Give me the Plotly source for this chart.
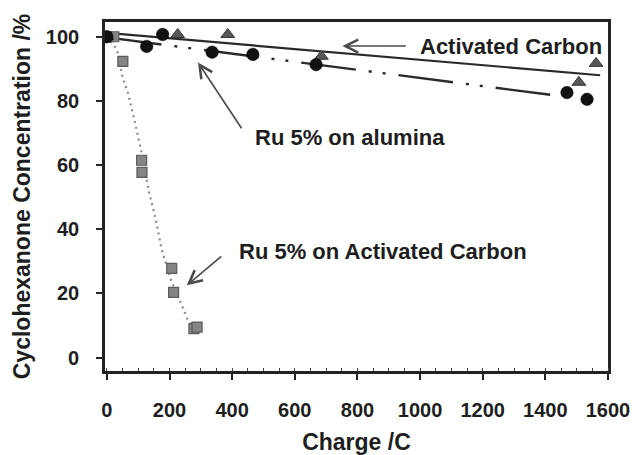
import plotly.graph_objects as go

# ---- data ----
# Activated Carbon (triangles)
ac_x = [0, 226, 386, 685, 1507, 1562]
ac_y = [100, 100.7, 100.7, 93.9, 85.8, 91.7]
ac_fit_x = [0, 1575]
ac_fit_y = [101.2, 88.0]

# Ru 5% on alumina (circles)
al_x = [0, 127, 178, 336, 466, 668, 1469, 1533]
al_y = [100, 97.0, 100.7, 95.2, 94.5, 91.3, 82.6, 80.5]
al_fit_x = [0, 1455]
al_fit_y = [99.8, 81.4]

# Ru 5% on Activated Carbon (squares)
ruac_x = [0, 22, 51, 111, 112, 207, 213, 278, 288]
ruac_y = [100, 100, 92.3, 61.5, 57.7, 27.8, 20.3, 9.0, 9.5]
ruac_fit_x = [0, 32, 51, 67, 89, 108, 134, 156, 175, 205, 239, 258, 290]
ruac_fit_y = [100, 96, 87, 82.6, 73.6, 65.2, 51.8, 43.1, 33.7, 24, 16.3, 11.9, 8]

x_ticks = [0, 200, 400, 600, 800, 1000, 1200, 1400, 1600]
y_ticks = [0, 20, 40, 60, 80, 100]

FONT = "Liberation Sans, Arial, sans-serif"
TXT = "#1e1e1e"

fig = go.Figure()

# trend lines
fig.add_trace(go.Scatter(x=ruac_fit_x, y=ruac_fit_y, mode="lines",
                         line=dict(color="#8a8a8a", width=2.2, dash="2px,4px"),
                         hoverinfo="skip", showlegend=False))
fig.add_trace(go.Scatter(x=al_fit_x, y=al_fit_y, mode="lines",
                         line=dict(color="#2a2a2a", width=2.4,
                                   dash="55px,13px,3px,11px,3px,13px"),
                         hoverinfo="skip", showlegend=False))
fig.add_trace(go.Scatter(x=ac_fit_x, y=ac_fit_y, mode="lines",
                         line=dict(color="#2a2a2a", width=2.2),
                         hoverinfo="skip", showlegend=False))

# markers
fig.add_trace(go.Scatter(x=ruac_x, y=ruac_y, mode="markers",
                         marker=dict(symbol="square", size=10, color="#858585",
                                     line=dict(color="#5c5c5c", width=1.2)),
                         name="Ru 5% on Activated Carbon", showlegend=False))
fig.add_trace(go.Scatter(x=ac_x, y=ac_y, mode="markers",
                         marker=dict(symbol="triangle-up", size=12, color="#575757",
                                     line=dict(color="#3a3a3a", width=1)),
                         name="Activated Carbon", showlegend=False))
fig.add_trace(go.Scatter(x=al_x, y=al_y, mode="markers",
                         marker=dict(symbol="circle", size=12.5, color="#111111",
                                     line=dict(color="#000000", width=0.5)),
                         name="Ru 5% on alumina", showlegend=False))

# labels
labels = [
    dict(text="Activated Carbon", x=1291, y=97.0, xanchor="center"),
    dict(text="Ru 5% on alumina", x=465, y=68.5, xanchor="left"),
    dict(text="Ru 5% on Activated Carbon", x=417, y=33.1, xanchor="left"),
]
for lb in labels:
    fig.add_annotation(x=lb["x"], y=lb["y"], text=lb["text"], showarrow=False,
                       xanchor=lb["xanchor"], yanchor="middle",
                       font=dict(family=FONT, size=22, color=TXT, weight="bold"))

# arrows (tip x,y ; tail ax,ay) in data units
arrows = [
    (752, 97.1, 959, 97.1),
    (291, 92.0, 433, 71.0),
    (255, 22.5, 370, 31.9),
]
for (tx, ty, sx, sy) in arrows:
    fig.add_annotation(x=tx, y=ty, ax=sx, ay=sy, xref="x", yref="y",
                       axref="x", ayref="y", text="", showarrow=True,
                       arrowhead=5, arrowsize=1.6, arrowwidth=1.6,
                       arrowcolor="#4a4a4a")

fig.update_xaxes(range=[-6, 1600], tickvals=x_ticks,
                 ticktext=[str(v) for v in x_ticks],
                 ticks="outside", ticklen=6, tickwidth=2, tickcolor="#222",
                 ticklabelstandoff=13,
                 showline=True, linewidth=2.6, linecolor="#222", mirror=True,
                 showgrid=False, zeroline=False,
                 minor=dict(ticks="inside", ticklen=3, dtick=50, tickcolor="#444", tickwidth=1),
                 tickfont=dict(family=FONT, size=20, color=TXT, weight="bold"),
                 title=dict(text="Charge /C", standoff=16,
                            font=dict(family=FONT, size=23, color=TXT, weight="bold")))
fig.update_yaxes(range=[-4.2, 104.6], tickvals=y_ticks,
                 ticktext=[str(v) for v in y_ticks],
                 ticks="outside", ticklen=6, tickwidth=2, tickcolor="#222",
                 ticklabelstandoff=13,
                 showline=True, linewidth=2.6, linecolor="#222", mirror=True,
                 showgrid=False, zeroline=False,
                 tickfont=dict(family=FONT, size=20, color=TXT, weight="bold"),
                 title=dict(text="Cyclohexanone Concentration /%", standoff=9,
                            font=dict(family=FONT, size=23, color=TXT, weight="bold")))

fig.update_layout(width=637, height=455,
                  margin=dict(l=105, r=29, t=22, b=84, autoexpand=False),
                  plot_bgcolor="white", paper_bgcolor="white",
                  showlegend=False)

fig.write_html("out.html")
